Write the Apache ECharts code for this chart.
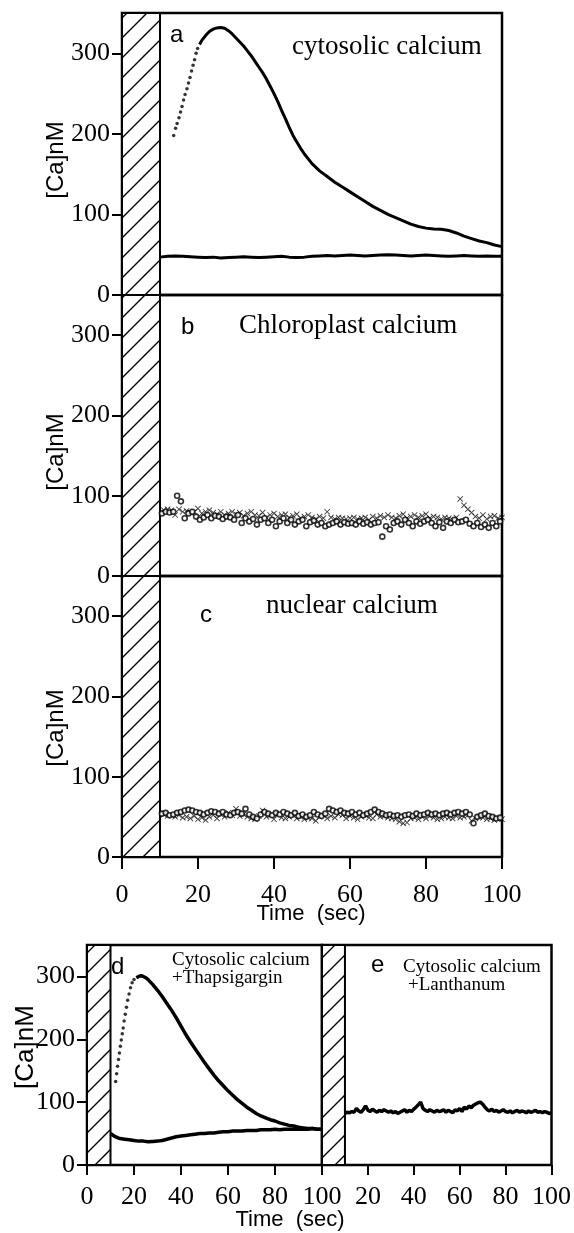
<!DOCTYPE html>
<html>
<head>
<meta charset="utf-8">
<script src="https://cdn.jsdelivr.net/npm/echarts@6/dist/echarts.min.js"></script>
<style>
  html, body { margin: 0; padding: 0; background: #fff; }
  #chart { width: 574px; height: 1233px; }
</style>
</head>
<body>
<div id="chart"></div>
<script>
// 坐标刻度
const yTicks = [0, 100, 200, 300]
const xTicks = [0, 20, 40, 60, 80, 100]
const xTicksE = [20, 40, 60, 80, 100]

// a: cytosolic calcium
const aDotsT = [13.6, 14.1, 14.5, 15.0, 15.4, 15.8, 16.2, 16.6, 17.1, 17.5, 17.9, 18.3, 18.7, 19.1, 19.5, 19.9]
const aDotsV = [198, 207, 213, 220, 227, 234, 242, 249, 256, 263, 270, 278, 285, 292, 300, 306]
const aCurveT = [20.4, 21, 22, 23, 24, 25, 26, 27, 28, 29, 30, 31, 32, 33, 34, 35, 36, 37, 38, 39, 40, 41, 42, 43, 44, 45, 46, 47, 48, 50, 52, 54, 56, 58, 60, 62, 64, 66, 68, 70, 72, 74, 76, 78, 80, 82, 84, 86, 88, 90, 92, 94, 96, 98, 100]
const aCurveV = [311, 316, 322, 327, 330, 331.5, 332, 331, 328, 324, 319, 314, 309, 303, 297, 290, 283, 276, 268, 259, 250, 240, 229, 219, 208, 198, 190, 182, 175, 163, 154, 147, 140, 134, 128, 122, 116, 110, 105, 100, 96, 92, 88, 85, 83, 82, 81.5, 80, 77, 73, 70, 67, 65, 62, 60]
const aBaseStart = 10 // 每 2 秒一个点
const aBaseV = [47, 48, 48.5, 48, 47.5, 47, 46.5, 47, 46, 46.5, 47, 47.5, 47, 46.5, 47, 47.5, 48, 47, 46.5, 47, 48, 48.5, 49, 48.5, 49, 49.5, 49, 48.5, 49, 49.5, 50, 49.5, 49, 48.5, 49, 49.5, 49, 48.5, 48, 48.5, 49, 48.5, 48, 48.5, 48, 48]

// b: chloroplast calcium (x 标记从 11 秒起, 圆点从 10.5 秒起, 每秒一个)
const bCrossV = [82, 83, 82, 76, 83, 80, 81, 79, 80, 84, 78, 80, 82, 79, 77, 80, 76, 78, 80, 77, 79, 75, 78, 80, 76, 75, 79, 73, 76, 78, 74, 76, 77, 73, 75, 77, 72, 74, 76, 73, 71, 74, 72, 80, 73, 71, 73, 72, 71, 72, 73, 71, 72, 73, 70, 74, 72, 75, 73, 76, 73, 72, 75, 77, 72, 74, 76, 73, 75, 77, 72, 74, 73, 71, 73, 72, 70, 73, 96, 88, 83, 79, 74, 72, 76, 71, 74, 75, 72, 73]
const bCircV = [78, 80, 79, 80, 100, 93, 72, 78, 80, 74, 70, 73, 76, 72, 75, 74, 71, 74, 73, 70, 76, 66, 72, 68, 71, 64, 70, 72, 66, 70, 62, 68, 72, 66, 70, 64, 68, 70, 62, 67, 69, 64, 66, 62, 64, 66, 68, 64, 67, 65, 66, 64, 68, 65, 67, 64, 66, 67, 49, 62, 58, 66, 68, 64, 70, 66, 62, 68, 65, 68, 70, 66, 62, 67, 60, 68, 66, 70, 67, 68, 70, 65, 62, 66, 61, 64, 60, 66, 62, 68]

// c: nuclear calcium
const cCrossV = [53, 51, 52, 50, 52, 49, 50, 48, 51, 47, 49, 46, 50, 52, 48, 53, 50, 55, 52, 60, 51, 53, 50, 48, 47, 51, 58, 50, 52, 47, 53, 49, 48, 50, 52, 48, 50, 47, 49, 48, 45, 50, 52, 48, 51, 49, 53, 52, 48, 51, 49, 47, 50, 52, 49, 48, 53, 50, 51, 49, 48, 47, 44, 42, 43, 48, 49, 47, 50, 48, 51, 49, 47, 48, 50, 49, 48, 51, 49, 50, 52, 45, 48, 50, 49, 47, 48, 46, 48, 47]
const cCircV = [54, 55, 52, 53, 55, 56, 58, 59, 58, 56, 55, 53, 55, 57, 56, 54, 56, 53, 52, 55, 56, 54, 60, 53, 50, 48, 53, 56, 54, 52, 55, 53, 56, 54, 52, 55, 51, 53, 50, 52, 56, 53, 51, 54, 60, 58, 56, 58, 55, 54, 56, 53, 55, 52, 54, 56, 59, 56, 54, 52, 53, 51, 52, 50, 52, 53, 51, 54, 52, 53, 55, 53, 54, 52, 54, 55, 53, 55, 56, 54, 56, 53, 42, 50, 52, 54, 51, 50, 48, 49]

// d: +Thapsigargin
const dDotsT = [12.2, 12.6, 13.0, 13.4, 13.8, 14.2, 14.6, 15.0, 15.4, 15.8, 16.3, 16.8, 17.3, 17.9, 18.5, 19.2, 20.0]
const dDotsV = [133, 145, 157, 168, 178, 189, 199, 209, 218, 229, 240, 251, 262, 272, 282, 290, 295]
const dCurveT = [21, 22, 23, 24, 25, 26, 28, 30, 32, 34, 36, 38, 40, 42, 44, 46, 48, 50, 52, 54, 56, 58, 60, 62, 64, 66, 68, 70, 72, 74, 76, 78, 80, 82, 84, 86, 88, 90, 92, 94, 96, 98, 100]
const dCurveV = [298, 300, 301, 300, 298, 295, 287, 278, 268, 257, 246, 234, 221, 208, 196, 185, 174, 163, 153, 143, 134, 126, 118, 111, 104, 98, 92, 87, 82, 78, 75, 72, 70, 67, 65, 63, 62, 60, 59, 58, 58, 57, 57]
const dBaseV = [50, 45, 42, 41, 40, 39, 38, 38, 37, 37.5, 38, 39, 41, 43, 45, 46, 47, 48, 49, 50, 50, 51, 51, 52, 53, 53, 54, 54, 54, 55, 55, 55, 56, 56, 56, 57, 56, 57, 57, 57, 57, 57, 57, 58, 57, 57]

// e: +Lanthanum (10 秒起每秒一个)
const eLineV = [82, 84, 83, 85, 84, 90, 86, 84, 88, 94, 87, 85, 89, 86, 84, 87, 85, 88, 86, 84, 86, 83, 85, 82, 84, 86, 88, 84, 87, 85, 89, 92, 96, 100, 90, 87, 85, 88, 86, 84, 87, 85, 86, 88, 84, 87, 85, 83, 88, 86, 90, 85, 92, 89, 94, 91, 95, 97, 99, 100, 97, 92, 88, 86, 89, 85, 87, 84, 86, 88, 85, 84, 86, 83, 85, 87, 84, 86, 85, 83, 86, 84, 85, 87, 84, 85, 83, 85, 84, 82, 83]

const zip = (ts, vs) => vs.map((v, i) => [ts[i], v])
const regular = (start, step, vs) => vs.map((v, i) => [start + i * step, v])

// 斜线填充
function makeHatch () {
  const c = document.createElement('canvas')
  c.width = 20
  c.height = 20
  const ctx = c.getContext('2d')
  ctx.fillStyle = '#fff'
  ctx.fillRect(0, 0, 20, 20)
  ctx.strokeStyle = '#000'
  ctx.lineWidth = 1.4
  ctx.beginPath()
  ctx.moveTo(-2, 22); ctx.lineTo(22, -2)
  ctx.moveTo(-2, 2); ctx.lineTo(2, -2)
  ctx.moveTo(18, 22); ctx.lineTo(22, 18)
  ctx.stroke()
  return c
}
const hatch = makeHatch()

const serif = 'Liberation Serif'
const sans = 'Liberation Sans'
const crossPath = 'path://M0,1L1,0L5,4L9,0L10,1L6,5L10,9L9,10L5,6L1,10L0,9L4,5Z'

const grids = [
  { left: 122, top: 13, width: 380, height: 282 },
  { left: 122, top: 295, width: 380, height: 281 },
  { left: 122, top: 576, width: 380, height: 281 },
  { left: 87, top: 945, width: 235, height: 220 },
  { left: 322, top: 945, width: 235, height: 220 }
].map(g => Object.assign(g, { show: true, borderColor: '#000', borderWidth: 2.5, backgroundColor: 'transparent' }))

function xAx (gi, ticks, margin, tickLen) {
  const show = !!ticks
  return {
    type: 'value', gridIndex: gi, min: 0, max: 100, interval: 20,
    axisLine: { show: false },
    axisTick: { show: show, length: tickLen, customValues: ticks || [], lineStyle: { color: '#000', width: 2 } },
    axisLabel: { show: show, customValues: ticks || [], margin: margin, color: '#000', fontFamily: serif, fontSize: 26 },
    splitLine: { show: false }
  }
}
function yAx (gi, show) {
  return {
    type: 'value', gridIndex: gi, min: 0, max: 350, interval: 50,
    axisLine: { show: false },
    axisTick: { show: show, length: 10, customValues: yTicks, lineStyle: { color: '#000', width: 2 } },
    axisLabel: { show: show, customValues: yTicks, margin: 12, color: '#000', fontFamily: serif, fontSize: 26 },
    splitLine: { show: false }
  }
}

const hatchArea = {
  silent: true,
  label: { show: false },
  itemStyle: { color: { image: hatch, repeat: 'repeat' }, borderColor: '#000', borderWidth: 2 },
  data: [[{ xAxis: 0 }, { xAxis: 10 }]]
}

function lineS (gi, data, w, area) {
  const s = {
    type: 'line', xAxisIndex: gi, yAxisIndex: gi, data: data, showSymbol: false,
    lineStyle: { color: '#000', width: w }, z: 3
  }
  if (area) s.markArea = hatchArea
  return s
}
function dotS (gi, data, size) {
  return {
    type: 'scatter', xAxisIndex: gi, yAxisIndex: gi, data: data, symbol: 'circle',
    symbolSize: size, itemStyle: { color: '#000' }, z: 3
  }
}
function crossS (gi, data, area) {
  const s = {
    type: 'scatter', xAxisIndex: gi, yAxisIndex: gi, data: data, symbol: crossPath,
    symbolSize: 6, itemStyle: { color: '#000' }, z: 3
  }
  if (area) s.markArea = hatchArea
  return s
}
function circS (gi, data) {
  return {
    type: 'scatter', xAxisIndex: gi, yAxisIndex: gi, data: data, symbol: 'circle',
    symbolSize: 5, itemStyle: { color: '#fff', borderColor: '#000', borderWidth: 1.6 }, z: 4
  }
}

function txt (text, x, y, size, family, align, rot) {
  return {
    type: 'text', x: x, y: y, rotation: rot || 0, z: 10,
    style: { text: text, fill: '#000', font: size + 'px "' + family + '"', textAlign: align || 'left', textVerticalAlign: 'middle' }
  }
}

const myChart = echarts.init(document.getElementById('chart'), null, { renderer: 'canvas' })
const option = {
  animation: false,
  backgroundColor: '#fff',
  grid: grids,
  xAxis: [
    xAx(0, null),
    xAx(1, null),
    xAx(2, xTicks, 25, 12),
    xAx(3, xTicks, 19, 10),
    xAx(4, xTicksE, 19, 10)
  ],
  yAxis: [yAx(0, true), yAx(1, true), yAx(2, true), yAx(3, true), yAx(4, false)],
  series: [
    lineS(0, regular(aBaseStart, 2, aBaseV), 3, true),
    dotS(0, zip(aDotsT, aDotsV), 3.5),
    lineS(0, zip(aCurveT, aCurveV), 3),
    crossS(1, regular(11, 1, bCrossV), true),
    circS(1, regular(10.5, 1, bCircV)),
    crossS(2, regular(11, 1, cCrossV), true),
    circS(2, regular(10.5, 1, cCircV)),
    lineS(3, regular(10, 2, dBaseV), 3.5, true),
    dotS(3, zip(dDotsT, dDotsV), 3.5),
    lineS(3, zip(dCurveT, dCurveV), 3.5),
    lineS(4, regular(10, 1, eLineV), 3.5, true)
  ],
  graphic: [
    txt('[Ca]nM', 56, 160, 24, sans, 'center', Math.PI / 2),
    txt('[Ca]nM', 56, 452, 24, sans, 'center', Math.PI / 2),
    txt('[Ca]nM', 56, 728, 24, sans, 'center', Math.PI / 2),
    txt('[Ca]nM', 26, 1047, 26, sans, 'center', Math.PI / 2),
    txt('a', 170, 35, 24, sans),
    txt('cytosolic calcium', 292, 47, 27, serif),
    txt('b', 181, 327, 24, sans),
    txt('Chloroplast calcium', 239, 326, 27, serif),
    txt('c', 200, 615, 24, sans),
    txt('nuclear calcium', 266, 606, 27, serif),
    txt('Time  (sec)', 311, 914, 22, sans, 'center'),
    txt('d', 111, 967, 24, sans),
    txt('Cytosolic calcium', 172, 960, 19, serif),
    txt('+Thapsigargin', 172, 978, 19, serif),
    txt('e', 371, 965, 24, sans),
    txt('Cytosolic calcium', 403, 967, 19, serif),
    txt('+Lanthanum', 408, 985, 19, serif),
    txt('Time  (sec)', 290, 1220, 22, sans, 'center')
  ]
}
myChart.setOption(option)
</script>
</body>
</html>
